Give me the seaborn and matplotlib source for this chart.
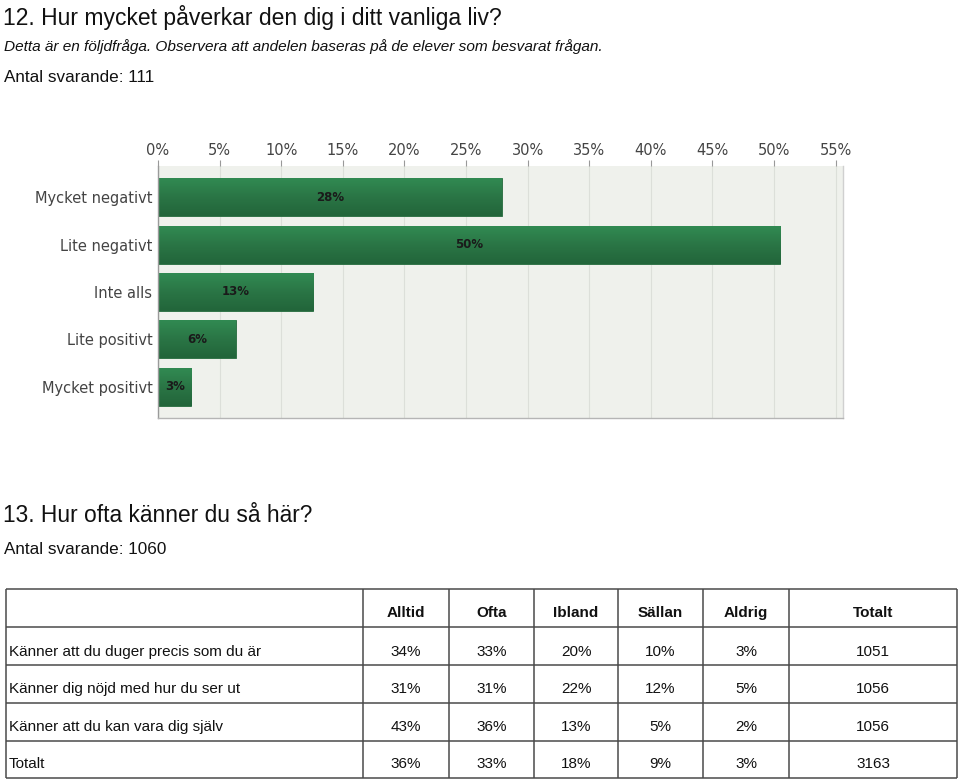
import numpy as np
import pandas as pd
import matplotlib
matplotlib.use("Agg")
import matplotlib.pyplot as plt
import seaborn as sns
from matplotlib.colors import LinearSegmentedColormap

# ---- data ----
q12_categories = ["Mycket negativt", "Lite negativt", "Inte alls", "Lite positivt", "Mycket positivt"]
q12_values = [27.9, 50.5, 12.6, 6.3, 2.7]
q12_labels = ["28%", "50%", "13%", "6%", "3%"]
x_ticks = [0, 5, 10, 15, 20, 25, 30, 35, 40, 45, 50, 55]

table_columns = ["Alltid", "Ofta", "Ibland", "Sällan", "Aldrig", "Totalt"]
table_rows = ["Känner att du duger precis som du är",
              "Känner dig nöjd med hur du ser ut",
              "Känner att du kan vara dig själv",
              "Totalt"]
col_alltid = ["34%", "31%", "43%", "36%"]
col_ofta = ["33%", "31%", "36%", "33%"]
col_ibland = ["20%", "22%", "13%", "18%"]
col_sallan = ["10%", "12%", "5%", "9%"]
col_aldrig = ["3%", "5%", "2%", "3%"]
col_totalt = ["1051", "1056", "1056", "3163"]

sns.set_theme(style="white")
plt.rcParams['font.family'] = ['Liberation Sans', 'DejaVu Sans']

W, H = 960, 780
fig = plt.figure(figsize=(W / 100, H / 100), dpi=100)
fig.patch.set_facecolor("white")


def fx(x):
    return x / W


def fy(y):
    return 1 - y / H


# ---- header texts ----
fig.text(fx(3), fy(17), "12. Hur mycket påverkar den dig i ditt vanliga liv?",
         fontsize=16.5, color="#111111", va="center", ha="left")
fig.text(fx(4), fy(47), "Detta är en följdfråga. Observera att andelen baseras på de elever som besvarat frågan.",
         fontsize=11.1, style="italic", color="#111111", va="center", ha="left")
fig.text(fx(4), fy(77), "Antal svarande: 111",
         fontsize=12.3, color="#111111", va="center", ha="left")

# ---- bar chart ----
left, right, top, bottom = 158, 843, 166, 418
ax = fig.add_axes([fx(left), fy(bottom), fx(right - left), (bottom - top) / H])
df = pd.DataFrame({"cat": q12_categories, "val": q12_values})
sns.barplot(data=df, x="val", y="cat", orient="h", ax=ax, color="#2a7546",
            width=0.8, saturation=1, edgecolor="#246b3d", linewidth=0.6)
ax.set_facecolor("#eff1ec")
ax.set_xlim(0, 55.6)
ax.set_ylim(4.655, -0.655)
ax.set_xticks(x_ticks)
ax.set_xticklabels([f"{t}%" for t in x_ticks])
ax.xaxis.tick_top()
ax.tick_params(axis="x", top=True, bottom=False, length=4, width=0.8, color="#999999",
               labelsize=10.5, labelcolor="#444444", pad=2)
ax.tick_params(axis="y", left=False, length=0, labelsize=10.5, labelcolor="#444444", pad=4)
for lab in ax.get_xticklabels() + ax.get_yticklabels():
    lab.set_family("DejaVu Sans")
ax.set_xlabel("")
ax.set_ylabel("")
ax.grid(axis="x", color="#dcdfd9", linewidth=0.8)
ax.set_axisbelow(True)
ax.spines["top"].set_visible(False)
ax.spines["left"].set_color("#9a9a9a")
ax.spines["bottom"].set_color("#b5b5b5")
ax.spines["right"].set_color("#d0d0d0")
for s in ["left", "bottom", "right"]:
    ax.spines[s].set_linewidth(1.0)

# gradient overlay on bars
cmap = LinearSegmentedColormap.from_list("g", ["#318a52", "#2a7545", "#22653a"])
grad = np.linspace(0, 1, 64).reshape(-1, 1)
for patch, lab in zip(ax.patches, q12_labels):
    x0, y0 = patch.get_x(), patch.get_y()
    w, h = patch.get_width(), patch.get_height()
    im = ax.imshow(grad, cmap=cmap, aspect="auto", extent=(x0, x0 + w, y0 + h, y0),
                   zorder=patch.get_zorder() + 0.1, interpolation="bilinear")
    im.set_clip_path(patch)
    ax.text(x0 + w / 2, y0 + h / 2, lab, ha="center", va="center", fontsize=8.5,
            fontweight="bold", color="#1a1a1a", family="DejaVu Sans",
            zorder=patch.get_zorder() + 1)
ax.set_xlim(0, 55.6)
ax.set_ylim(4.655, -0.655)

# ---- question 13 texts ----
fig.text(fx(3), fy(516), "13. Hur ofta känner du så här?",
         fontsize=16.4, color="#111111", va="center", ha="left")
fig.text(fx(4), fy(549), "Antal svarande: 1060",
         fontsize=12.3, color="#111111", va="center", ha="left")

# ---- table ----
tax = fig.add_axes([0, 0, 1, 1])
tax.set_xlim(0, W)
tax.set_ylim(H, 0)
tax.axis("off")
xl = [6, 363, 449, 534, 618, 703, 789, 957]
yl = [589, 627, 665, 703, 741, 778]
lc = "#4a4a4a"
for x in xl:
    tax.plot([x, x], [yl[0], yl[-1]], color=lc, lw=1.1, solid_capstyle="butt")
for y in yl:
    tax.plot([xl[0], xl[-1]], [y, y], color=lc, lw=1.1, solid_capstyle="butt")

header_y = 613
row_ys = [652, 689, 727, 764]
for i, c in enumerate(table_columns):
    tax.text((xl[i + 1] + xl[i + 2]) / 2, header_y, c, ha="center", va="center",
             fontsize=11, fontweight="bold", color="#111111")
cols = [col_alltid, col_ofta, col_ibland, col_sallan, col_aldrig, col_totalt]
for r, name in enumerate(table_rows):
    tax.text(9, row_ys[r], name, ha="left", va="center", fontsize=11, color="#111111")
    for i, col in enumerate(cols):
        tax.text((xl[i + 1] + xl[i + 2]) / 2, row_ys[r], col[r], ha="center", va="center",
                 fontsize=11, color="#111111")

fig.savefig("out.png", dpi=100, facecolor="white")
